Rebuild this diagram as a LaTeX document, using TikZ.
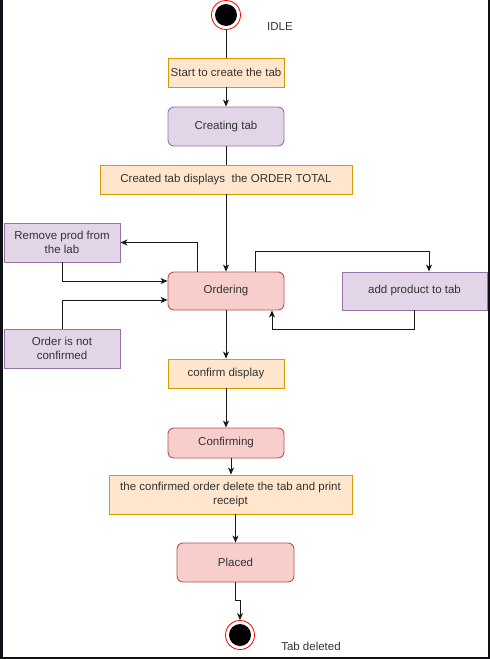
\documentclass[tikz,border=0pt]{standalone}
\usepackage{fontspec}
\setmainfont{Liberation Sans}
\usetikzlibrary{arrows.meta,calc}
\definecolor{ofill}{HTML}{FFE6CC}
\definecolor{ostroke}{HTML}{D79B00}
\definecolor{pfill}{HTML}{E1D5E7}
\definecolor{pstroke}{HTML}{9673A6}
\definecolor{rfill}{HTML}{F8CECC}
\definecolor{rstroke}{HTML}{B85450}
\definecolor{txt}{HTML}{333333}
\definecolor{frame}{HTML}{101116}
\tikzset{
  base/.style={draw, line width=0.9pt, inner sep=2pt, text=txt, align=center,
    font=\fontsize{11.5}{13.5}\selectfont},
  actbox/.style={base, fill=ofill, draw=ostroke, rectangle},
  pbox/.style={base, fill=pfill, draw=pstroke, rectangle},
  pround/.style={base, fill=pfill, draw=pstroke, rectangle, rounded corners=6pt},
  rround/.style={base, fill=rfill, draw=rstroke, rectangle, rounded corners=6pt},
  endstate/.style={circle, draw=red, line width=0.8pt, fill=white, minimum size=29pt, inner sep=0pt,
    path picture={\fill[black] (path picture bounding box.center) circle (11pt);}},
  lbl/.style={text=txt, font=\fontsize{11.5}{13.5}\selectfont},
  conn/.style={draw=black!90, line width=0.9pt},
  arr/.style={conn, -{Stealth[length=7pt,width=6pt,inset=2pt]}}
}
\begin{document}
\begin{tikzpicture}[x=1pt,y=-1pt]
\useasboundingbox (0,0) rectangle (490,659);
\fill[white] (0,0) rectangle (490,659);
\fill[frame] (0,0) rectangle (3,659);
\fill[frame] (488,0) rectangle (490,659);
\fill[frame] (0,656.5) rectangle (490,659);

\node[endstate] (startc) at (226,15) {};
\node[lbl] (idle) at (280,27) {IDLE};
\node[actbox, minimum width=116pt, minimum height=29pt] (startbox) at (226,72.5) {Start to create the tab};
\node[pround, minimum width=116pt, minimum height=39pt] (creating) at (226,126.5) {Creating tab};
\node[actbox, minimum width=252pt, minimum height=29pt] (created) at (226,179.5) {Created tab displays\ \ the ORDER TOTAL};
\node[rround, minimum width=116pt, minimum height=38pt] (ordering) at (226,291) {Ordering};
\node[pbox, minimum width=116pt, minimum height=39pt] (remove) at (62,242.5) {Remove prod from\\the lab};
\node[pbox, minimum width=116pt, minimum height=39pt] (notconf) at (62,348.5) {Order is not\\confirmed};
\node[pbox, minimum width=145pt, minimum height=38pt] (add) at (414.5,291) {add product to tab};
\node[actbox, minimum width=116pt, minimum height=29pt] (confdisp) at (226,373.5) {confirm display};
\node[rround, minimum width=116pt, minimum height=30pt] (confirming) at (226,443) {Confirming};
\node[actbox, minimum width=243pt, minimum height=39pt] (confbox) at (230.5,494.5) {the confirmed order delete the tab and print\\receipt};
\node[rround, minimum width=117pt, minimum height=39pt] (placed) at (235.5,562.5) {Placed};
\node[endstate] (endc) at (240,635) {};
\node[lbl] (tabdel) at (311,646) {Tab deleted};

\draw[conn] (startc) -- (startbox);
\draw[arr] (startbox) -- (creating);
\draw[conn] (creating) -- (created);
\draw[arr] (created) -- (ordering);
\draw[arr] ([xshift=-29pt]ordering.north) |- (remove.east);
\draw[arr] (remove.south) |- ([yshift=10pt]ordering.west);
\draw[arr] (notconf.north) |- ([yshift=-9pt]ordering.west);
\draw[arr] ([xshift=29pt]ordering.north) -- ++(0,-20) -| ([xshift=14.5pt]add.north);
\draw[arr] (add.south) -- ++(0,19) -| ([xshift=46pt]ordering.south);
\draw[arr] (ordering) -- (confdisp);
\draw[arr] (confdisp) -- (confirming);
\draw[arr] ([xshift=5pt]confirming.south) -- ([xshift=5pt]confirming.south |- confbox.north);
\draw[arr] (confbox.south -| placed.north) -- (placed.north);
\draw[arr] (placed.south) -- ++(0,18) -| (endc.north);
\end{tikzpicture}
\end{document}
